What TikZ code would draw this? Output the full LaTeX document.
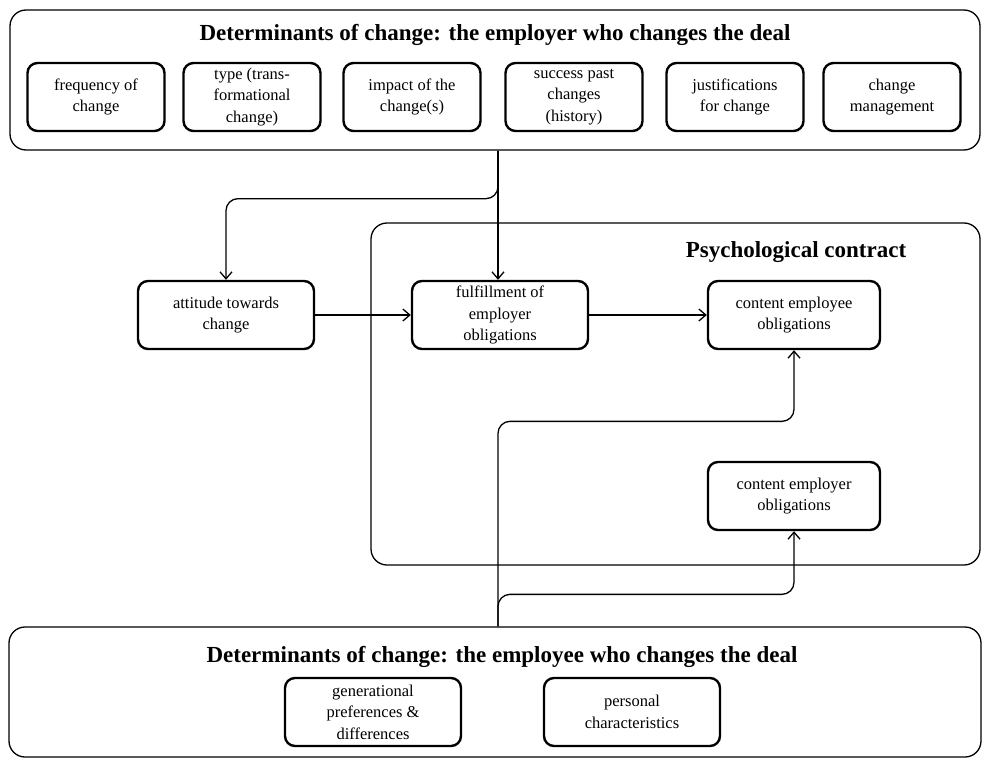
\documentclass[tikz,border=0pt]{standalone}
\usepackage{fontspec}
\setmainfont{Liberation Serif}
\usetikzlibrary{arrows.meta,calc}

\begin{document}
\begin{tikzpicture}[x=1pt,y=-1pt,>={Straight Barb[length=7pt,width=12pt]},
 frame/.style={draw,line width=1.3pt,rounded corners=16pt,inner sep=0pt},
 factor/.style={draw,line width=2.4pt,rounded corners=10pt,minimum width=137pt,minimum height=68pt,align=center,inner sep=2pt,font=\fontsize{16.5}{21.5}\selectfont},
 wide/.style={minimum width=176pt},
 heading/.style={font=\fontsize{23}{27}\selectfont\bfseries},
 link/.style={->,line width=1.3pt,rounded corners=12pt}]
\useasboundingbox (0,0) rectangle (983,760);
% employer who changes the deal
\node[frame,minimum width=970pt,minimum height=140pt] (employer) at (495,80) {};
\node[heading] (employerT) at (495,35) {Determinants of change: the employer who changes the deal};
\node[factor] (freq) at (96,97) {frequency of\\change};
\node[factor] (type) at (252,97) {type (trans-\\formational\\change)};
\node[factor] (impact) at (412,97) {impact of the\\change(s)};
\node[factor] (history) at (574,97) {success past\\changes\\(history)};
\node[factor] (justify) at (735,97) {justifications\\for change};
\node[factor] (manage) at (892,97) {change\\management};
% psychological contract
\node[frame,minimum width=609pt,minimum height=342pt] (psych) at (675.5,394) {};
\node[heading] (psychT) at (796,252) {Psychological contract};
\node[factor,wide] (attitude) at (226,315) {attitude towards\\change};
\node[factor,wide] (fulfil) at (500,315) {fulfillment of\\employer\\obligations};
\node[factor,minimum width=172pt] (contEe) at (794,315) {content employee\\obligations};
\node[factor,minimum width=172pt] (contEr) at (794,496) {content employer\\obligations};
% employee who changes the deal
\node[frame,minimum width=972pt,minimum height=130pt] (employee) at (495,692) {};
\node[heading] (employeeT) at (502,657) {Determinants of change: the employee who changes the deal};
\node[factor,wide] (generation) at (373,712) {generational\\preferences \&\\differences};
\node[factor,wide] (personal) at (632,712) {personal\\characteristics};
% connectors
\coordinate (erout) at ($(employer.south)+(3,0)$);
\coordinate (eeout) at ($(employee.north)+(3,0)$);
\draw[link] (erout) -- (erout |- fulfil.north);
\draw[link] (erout) -- ++(0,48) -| (attitude.north);
\draw[link] (attitude) -- (fulfil);
\draw[link] (fulfil) -- (contEe);
\draw[link] (eeout) -- ++(0,-205) -| (contEe.south);
\draw[link] (eeout) -- ++(0,-32) -| (contEr.south);
\end{tikzpicture}
\end{document}
